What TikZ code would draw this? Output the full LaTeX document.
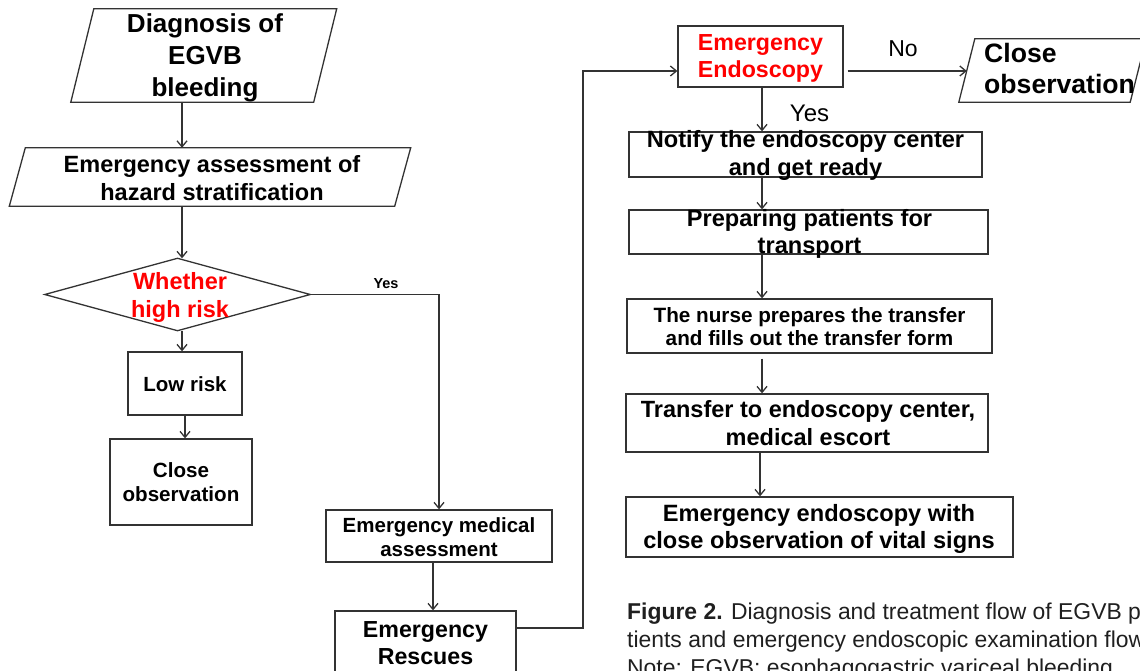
\documentclass[tikz,border=0pt]{standalone}
\usepackage{fontspec}
\setmainfont{Liberation Sans}
\usetikzlibrary{arrows.meta,calc}
\definecolor{linegray}{gray}{0.2}
\definecolor{hired}{RGB}{255,0,0}
\definecolor{captext}{gray}{0.12}

% font size / baseline skip in one go
\newcommand\fs[2]{\fontsize{#1}{#2}\selectfont}
% parallelogram outline around an empty node, slanted by #2 on each edge
\newcommand\slantbox[2]{\draw[line] ([xshift=#2]#1.north west) -- ([xshift=#2]#1.north east) -- ([xshift=-#2]#1.south east) -- ([xshift=-#2]#1.south west) -- cycle;}
% decision diamond through the four side anchors of an empty node
\newcommand\decisionbox[1]{\draw[line] (#1.west) -- (#1.north) -- (#1.east) -- (#1.south) -- cycle;}

\begin{document}
\begin{tikzpicture}[x=1pt,y=-1pt,
  line/.style={draw=linegray, line width=1.3pt},
  arr/.style={line, -{Straight Barb[length=6pt,width=10pt]}},
  frame/.style={line, rectangle, inner sep=0pt},
  hole/.style={rectangle, inner sep=0pt},
  lbl/.style={inner sep=0pt, align=center, text=black},
]
\useasboundingbox (0,0) rectangle (1140,671);
\clip (0,0) rectangle (1140,671);

% ---------------- left column ----------------
\node[hole, minimum width=242.5pt, minimum height=93pt] (diag) at (203.75,55.5) {};
\slantbox{diag}{11.5pt}
\node[lbl, font=\bfseries\fs{26}{32}] (diagT) at (205,57.5) {Diagnosis of\\EGVB\\bleeding};

\node[hole, minimum width=385pt, minimum height=58pt] (assess) at (210,177) {};
\slantbox{assess}{8pt}
\node[lbl, font=\bfseries\fs{23.5}{28}] (assessT) at (212,178) {Emergency assessment of\\hazard stratification};

\node[hole, minimum width=265pt, minimum height=72pt] (risk) at (177.5,294.5) {};
\decisionbox{risk}
\node[lbl, text=hired, font=\bfseries\fs{23.5}{28}] (riskT) at (180,297) {Whether\\high risk};

\node[frame, minimum width=114pt, minimum height=63pt] (low) at (185,383.5) {};
\node[lbl, font=\bfseries\fs{20.5}{24}] (lowT) at (185,384) {Low risk};

\node[frame, minimum width=142pt, minimum height=86pt] (closeL) at (181,482) {};
\node[lbl, font=\bfseries\fs{20.6}{24}] (closeLT) at (181,482) {Close\\observation};

\node[frame, minimum width=226pt, minimum height=52pt] (emed) at (439,536) {};
\node[lbl, font=\bfseries\fs{20.5}{24}] (emedT) at (439,537) {Emergency medical\\assessment};

\node[frame, minimum width=181pt, minimum height=79pt] (rescue) at (425.5,650.5) {};
\node[lbl, font=\bfseries\fs{23.2}{27}] (rescueT) at (425.5,643) {Emergency\\Rescues};

\node[lbl, font=\bfseries\fs{14.5}{16}, anchor=base] (yesL) at (386,288) {Yes};

% ---------------- right column ----------------
\node[frame, minimum width=165pt, minimum height=61pt] (endo) at (760.5,56.5) {};
\node[lbl, text=hired, font=\bfseries\fs{23.2}{27}] (endoT) at (760.5,58.5) {Emergency\\Endoscopy};

\node[hole, minimum width=171pt, minimum height=63pt] (closeR) at (1052.5,70.5) {};
\slantbox{closeR}{8pt}
\node[lbl, align=left, anchor=west, font=\bfseries\fs{26.6}{31}] (closeRT) at (984,68.5) {Close\\observation};

\node[lbl, font=\fs{23}{26}, anchor=base] (noL) at (903,56.7) {No};
\node[lbl, font=\fs{24}{27}, anchor=base] (yesR) at (809.5,121.5) {Yes};

\node[frame, minimum width=353pt, minimum height=45pt] (notify) at (805.5,154.5) {};
\node[lbl, font=\bfseries\fs{23.6}{28}] (notifyT) at (805.5,155) {Notify the endoscopy center\\and get ready};

\node[frame, minimum width=359pt, minimum height=44pt] (prep) at (808.5,232) {};
\node[lbl, font=\bfseries\fs{23.6}{27}] (prepT) at (809.5,233.5) {Preparing patients for\\transport};

\node[frame, minimum width=365pt, minimum height=54pt] (nurse) at (809.5,326) {};
\node[lbl, font=\bfseries\fs{20.7}{23.5}] (nurseT) at (809.5,326.5) {The nurse prepares the transfer\\and fills out the transfer form};

\node[frame, minimum width=362pt, minimum height=58pt] (transfer) at (807,423) {};
\node[lbl, font=\bfseries\fs{23.5}{28}] (transferT) at (808,423) {Transfer to endoscopy center,\\medical escort};

\node[frame, minimum width=387pt, minimum height=60pt] (last) at (819.5,527) {};
\node[lbl, font=\bfseries\fs{23.6}{26.5}] (lastT) at (819,529) {Emergency endoscopy with\\close observation of vital signs};

% ---------------- caption ----------------
\node[lbl, text=captext, anchor=base west, font=\fs{22.9}{28}] (cap1) at (627,619) {\textbf{Figure 2.} Diagnosis and treatment flow of EGVB pa-};
\node[lbl, text=captext, anchor=base west, font=\fs{22.9}{28}] (cap2) at (627,647) {tients and emergency endoscopic examination flow};
\node[lbl, text=captext, anchor=base west, font=\fs{22.9}{28}] (cap3) at (627,675) {Note: EGVB: esophagogastric variceal bleeding.};

% ---------------- connectors ----------------
\coordinate (axL) at (182,0);
\coordinate (axM) at (433,0);
\coordinate (axR) at (762,0);
\coordinate (axR2) at (760,0);
\coordinate (loop) at (583,71);

\draw[arr] (diag.south -| axL) -- (assess.north -| axL);
\draw[arr] (assess.south -| axL) -- (risk.north -| axL);
\draw[arr] (risk.south -| axL) -- (low.north -| axL);
\draw[arr] (low.south) -- (low.south |- closeL.north);
\draw[arr] (risk.east) -| (emed.north);
\draw[arr] (emed.south -| axM) -- (rescue.north -| axM);
\draw[arr] ([yshift=22.5pt]rescue.east) -| (loop) -- (loop -| endo.west);
\draw[arr] ($(loop -| endo.east)+(4,0)$) -- (loop -| closeR.west);
\draw[arr] (endo.south -| axR) -- (notify.north -| axR);
\draw[arr] (notify.south -| axR) -- (prep.north -| axR);
\draw[arr] (prep.south -| axR) -- (nurse.north -| axR);
\draw[arr] ($(nurse.south -| axR)+(0,5)$) -- (transfer.north -| axR);
\draw[arr] (transfer.south -| axR2) -- (last.north -| axR2);
\end{tikzpicture}
\end{document}
